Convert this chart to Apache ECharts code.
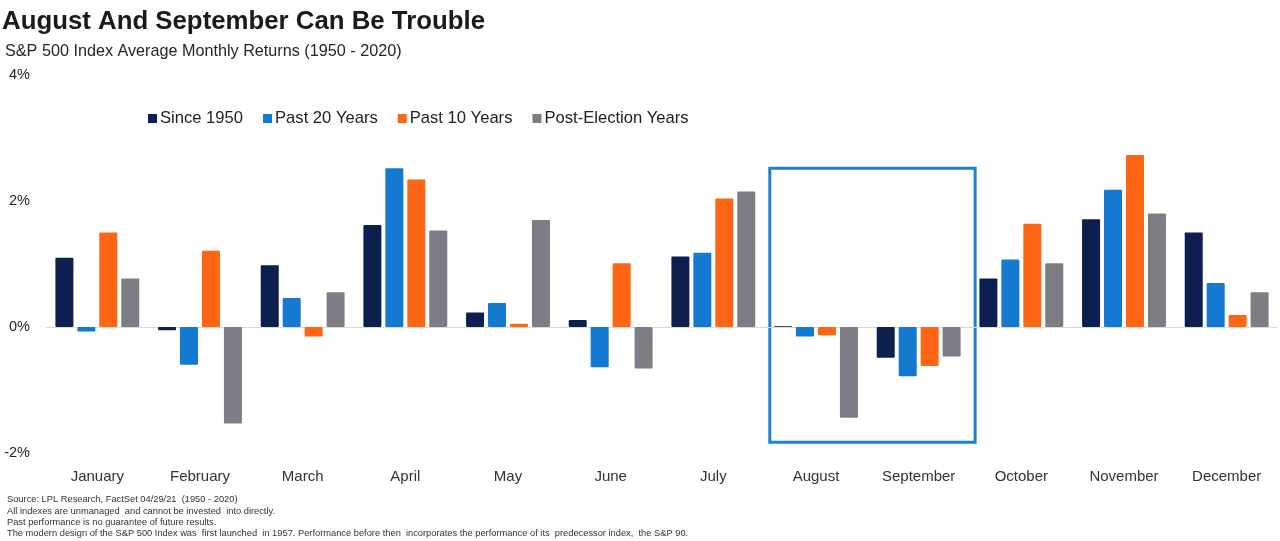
<!DOCTYPE html>
<html>
<head>
<meta charset="utf-8">
<script src="https://cdn.jsdelivr.net/npm/echarts@6/dist/echarts.min.js"></script>
<style>
html,body{margin:0;padding:0;background:#fff;}
#chart{width:1280px;height:541px;}
</style>
</head>
<body>
<div id="chart"></div>
<script>
var months = ['January','February','March','April','May','June','July','August','September','October','November','December'];
var since1950    = [1.10, -0.05, 0.98, 1.62, 0.23, 0.11, 1.12, 0.01, -0.49, 0.77, 1.71, 1.50];
var past20Years  = [-0.07, -0.60, 0.46, 2.52, 0.38, -0.64, 1.18, -0.15, -0.78, 1.07, 2.18, 0.70];
var past10Years  = [1.50, 1.21, -0.15, 2.34, 0.05, 1.01, 2.04, -0.13, -0.62, 1.64, 2.73, 0.19];
var postElection = [0.77, -1.53, 0.55, 1.53, 1.70, -0.66, 2.15, -1.44, -0.47, 1.01, 1.80, 0.55];
var yTicks = [-2, 0, 2, 4];
var seriesNames = ['Since 1950','Past 20 Years','Past 10 Years','Post-Election Years'];
var seriesColors = ['#0c1f4e','#1479d0','#fe6514','#7c7d85'];
// highlight box (Aug–Sep) in category-index units and percent
var boxX = [7.05, 9.05];
var boxY = [2.52, -1.83];
var footnotes = [
  'Source: LPL Research, FactSet 04/29/21  (1950 - 2020)',
  'All indexes are unmanaged  and cannot be invested  into directly.',
  'Past performance is no guarantee of future results.',
  'The modern design of the S&P 500 Index was  first launched  in 1957. Performance before then  incorporates the performance of its  predecessor index,  the S&P 90.'
];

var chart = echarts.init(document.getElementById('chart'));
var allData = [since1950, past20Years, past10Years, postElection];
var series = allData.map(function(d, i){
  var s = {
    name: seriesNames[i],
    type: 'bar',
    data: d,
    barWidth: 18,
    barGap: '22%',
    itemStyle: {color: seriesColors[i], borderRadius: 1},
    emphasis: {disabled: true}
  };
  if (i === 0) {
    s.markLine = {
      silent: true,
      symbol: 'none',
      label: {show: false},
      lineStyle: {color: '#d9d9d9', type: 'solid', width: 1},
      data: [{yAxis: 0}],
      z: 1
    };
  }
  return s;
});
series.push({
  type: 'scatter',
  xAxisIndex: 1,
  data: [],
  silent: true,
  markArea: {
    silent: true,
    itemStyle: {color: 'rgba(0,0,0,0)', borderColor: '#1f7fd1', borderWidth: 3},
    label: {show: false},
    data: [[{xAxis: boxX[0], yAxis: boxY[0]}, {xAxis: boxX[1], yAxis: boxY[1]}]]
  }
});

chart.setOption({
  animation: false,
  backgroundColor: '#ffffff',
  title: [
    {
      text: 'August And September Can Be Trouble',
      left: 2, top: 9, padding: 0,
      textStyle: {fontFamily: 'Liberation Sans, Arial, sans-serif', fontWeight: 'bold', fontSize: 25.8, color: '#1a1a1a'}
    },
    {
      text: 'S&P 500 Index Average Monthly Returns (1950 - 2020)',
      left: 5, top: 44, padding: 0,
      textStyle: {fontFamily: 'Liberation Sans, Arial, sans-serif', fontWeight: 'normal', fontSize: 16.2, color: '#262626'}
    },
    {
      text: footnotes.join('\n'),
      left: 7, top: 494, padding: 0,
      textStyle: {fontFamily: 'Liberation Sans Narrow, Liberation Sans, Arial, sans-serif', fontWeight: 'normal', fontSize: 9.3, lineHeight: 11.3, color: '#333'}
    }
  ],
  legend: {
    data: seriesNames,
    left: 143, top: 105,
    icon: 'rect',
    itemWidth: 9, itemHeight: 9,
    itemGap: 20,
    textStyle: {fontFamily: 'Liberation Sans, Arial, sans-serif', fontSize: 16.6, color: '#222', padding: [0,0,0,-2]},
    selectedMode: false
  },
  grid: {left: 46, right: 2, top: 75, bottom: 88},
  xAxis: [
    {
      type: 'category',
      data: months,
      axisLine: {show: false, onZero: false},
      axisTick: {show: false},
      axisLabel: {margin: 16, fontFamily: 'Liberation Sans Narrow, Liberation Sans, Arial, sans-serif', fontSize: 15, color: '#333'},
      splitLine: {show: false}
    },
    {
      type: 'value', min: 0, max: 12, show: false
    }
  ],
  yAxis: {
    type: 'value',
    min: yTicks[0], max: yTicks[yTicks.length-1], interval: 2,
    axisLine: {show: false},
    axisTick: {show: false},
    splitLine: {show: false},
    axisLabel: {
      margin: 16,
      fontFamily: 'Liberation Sans, Arial, sans-serif', fontSize: 14.5, color: '#262626',
      formatter: function(v){ return v + '%'; }
    }
  },
  series: series
});
</script>
</body>
</html>
